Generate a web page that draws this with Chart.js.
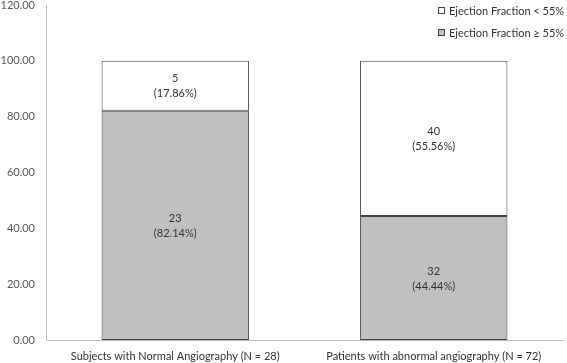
<!DOCTYPE html>
<html>
<head>
<meta charset="utf-8">
<script src="https://cdn.jsdelivr.net/npm/chart.js@4/dist/chart.umd.min.js"></script>
<style>
  body { margin: 0; background: #fff; }
</style>
</head>
<body>
<canvas id="chart" width="567" height="363"></canvas>
<script>
var categories = ["Subjects with Normal Angiography (N = 28)", "Patients with abnormal angiography (N = 72)"];
var pctHigh = [82.14, 44.44];   // Ejection Fraction >= 55%
var pctLow = [17.86, 55.56];    // Ejection Fraction < 55%
var countHigh = [23, 32];
var countLow = [5, 40];
var yTicks = [0, 20, 40, 60, 80, 100, 120];

var fontFamily = 'Lato, "Open Sans", sans-serif';

// labels inside each bar segment: count on one line, percent below
var segmentLabels = {
    id: 'segmentLabels',
    afterDatasetsDraw: function (chart) {
        var ctx = chart.ctx;
        ctx.save();
        ctx.font = '11px ' + fontFamily;
        ctx.fillStyle = '#333333';
        ctx.textAlign = 'center';
        ctx.textBaseline = 'middle';
        chart.data.datasets.forEach(function (ds, i) {
            var meta = chart.getDatasetMeta(i);
            meta.data.forEach(function (bar, j) {
                var mid = (bar.y + bar.base) / 2;
                ctx.fillText(String(ds.counts[j]), bar.x, mid - 7);
                ctx.fillText('(' + ds.data[j].toFixed(2) + '%)', bar.x, mid + 8);
            });
        });
        ctx.restore();
    }
};

// legend in the top right corner, drawn over the plot
var cornerLegend = {
    id: 'cornerLegend',
    afterDraw: function (chart) {
        var ctx = chart.ctx;
        var items = chart.data.datasets.slice().reverse();
        ctx.save();
        ctx.font = '11px ' + fontFamily;
        ctx.textBaseline = 'middle';
        ctx.textAlign = 'left';
        items.forEach(function (ds, k) {
            var y = 11 + k * 22;
            var x = 438;
            ctx.fillStyle = ds.backgroundColor;
            ctx.fillRect(x, y - 4, 7, 7);
            ctx.strokeStyle = '#404040';
            ctx.lineWidth = 1;
            ctx.strokeRect(x + 0.5, y - 3.5, 6, 6);
            ctx.fillStyle = '#333333';
            ctx.fillText(ds.label, x + 11, y);
        });
        ctx.restore();
    }
};

new Chart(document.getElementById('chart').getContext('2d'), {
    type: 'bar',
    data: {
        labels: categories,
        datasets: [{
            label: 'Ejection Fraction \u2265 55%',
            data: pctHigh,
            counts: countHigh,
            backgroundColor: '#c0c0c0',
            borderColor: '#404040',
            borderWidth: 1,
            borderSkipped: false,
            categoryPercentage: 1.0,
            barPercentage: 0.57
        }, {
            label: 'Ejection Fraction < 55%',
            data: pctLow,
            counts: countLow,
            backgroundColor: '#ffffff',
            borderColor: '#404040',
            borderWidth: 1,
            borderSkipped: false,
            categoryPercentage: 1.0,
            barPercentage: 0.57
        }]
    },
    options: {
        responsive: false,
        animation: false,
        layout: { autoPadding: false, padding: { top: 5, right: 4, left: 0, bottom: 0 } },
        plugins: {
            legend: { display: false },
            tooltip: { enabled: false }
        },
        scales: {
            x: {
                stacked: true,
                grid: { display: false },
                border: { display: true, color: '#bfbfbf' },
                afterFit: function (axis) { axis.height = 23; },
                ticks: { color: '#333333', padding: 2, maxRotation: 0, font: { family: fontFamily, size: 11 } }
            },
            y: {
                stacked: true,
                min: 0,
                max: 120,
                afterBuildTicks: function (axis) {
                    axis.ticks = yTicks.map(function (v) { return { value: v }; });
                },
                afterFit: function (axis) {
                    axis.width = 46;
                    axis.paddingTop = 0;
                    axis.paddingBottom = 0;
                },
                grid: { display: false },
                border: { display: true, color: '#bfbfbf' },
                ticks: {
                    color: '#595959',
                    padding: 3,
                    font: { family: fontFamily, size: 11 },
                    callback: function (v) { return Number(v).toFixed(2); }
                }
            }
        }
    },
    plugins: [segmentLabels, cornerLegend]
});
</script>
</body>
</html>
